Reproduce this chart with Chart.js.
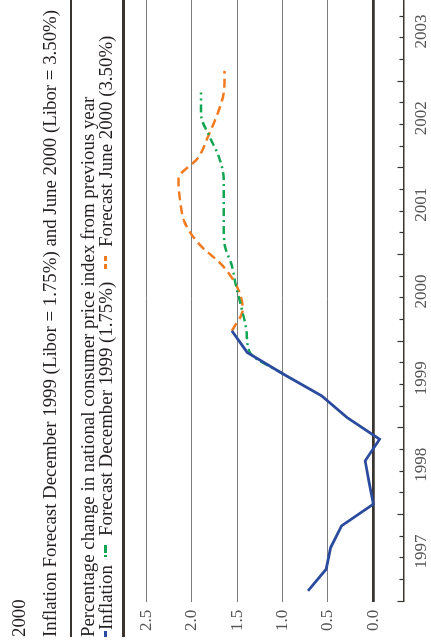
<!DOCTYPE html>
<html>
<head>
<meta charset="utf-8">
<script src="https://cdn.jsdelivr.net/npm/chart.js@4.4.0/dist/chart.umd.min.js"></script>
<style>
  html, body { margin: 0; padding: 0; background: #fff; width: 431px; height: 643px; overflow: hidden; }
  /* the chart is laid out landscape, then turned a quarter turn to the left */
  #page {
    position: absolute; left: 0; top: 0; width: 643px; height: 431px;
    transform-origin: 0 0; transform: translateY(643px) rotate(-90deg);
    overflow: hidden; font-family: "Liberation Serif", serif; color: #231f20;
  }
  #chart { position: absolute; left: 0; top: 0; }
  .txt { position: absolute; white-space: nowrap; line-height: 1; transform-origin: 0 0; }
  .rule { position: absolute; left: 6px; width: 640px; background: #3a3431; }
  .mk { position: absolute; top: 104px; height: 2.5px; }
</style>
</head>
<body>
<div id="page">
  <canvas id="chart" width="660" height="431"></canvas>
  <span class="txt" id="head">2000</span>
  <span class="txt" id="title">Inflation Forecast December 1999 (Libor = 1.75%) and June 2000 (Libor = 3.50%)</span>
  <div class="rule" style="top:70px;height:2px"></div>
  <span class="txt" id="sub">Percentage change in national consumer price index from previous year</span>
  <div class="mk" style="left:6px;width:6px;height:3px;background:#2b4c9e"></div>
  <span class="txt" id="leg1">Inflation</span>
  <div class="mk" id="gr1" style="width:2.5px;background:#12a552"></div>
  <div class="mk" id="gr2" style="width:8px;background:#12a552"></div>
  <span class="txt" id="leg2">Forecast December 1999 (1.75%)</span>
  <div class="mk" id="or1" style="width:5px;background:#f27b21"></div>
  <div class="mk" id="or2" style="width:5px;background:#f27b21"></div>
  <span class="txt" id="leg3">Forecast June 2000 (3.50%)</span>
  <div class="rule" style="top:122px;height:2.5px"></div>
</div>
<script>
// quarterly categories, 1997 Q1 .. 2003 Q4
const quarters = [
  "1997 Q1", "1997 Q2", "1997 Q3", "1997 Q4",
  "1998 Q1", "1998 Q2", "1998 Q3", "1998 Q4",
  "1999 Q1", "1999 Q2", "1999 Q3", "1999 Q4",
  "2000 Q1", "2000 Q2", "2000 Q3", "2000 Q4",
  "2001 Q1", "2001 Q2", "2001 Q3", "2001 Q4",
  "2002 Q1", "2002 Q2", "2002 Q3", "2002 Q4",
  "2003 Q1", "2003 Q2", "2003 Q3", "2003 Q4"
];
const yearLabels = ["1997", "1998", "1999", "2000", "2001", "2002", "2003"];
const valueTicks = [0, 0.5, 1.0, 1.5, 2.0, 2.5];

const inflation = [0.72, 0.52, 0.47, 0.35, 0.00, 0.045, 0.09, -0.07, 0.29, 0.57, 0.99, 1.39, 1.56];
const forecastDec1999 = [null, null, null, null, null, null, null, null, null, null,
  0.99, 1.36, 1.40, 1.45, 1.51, 1.56, 1.64, 1.65, 1.65, 1.65, 1.70, 1.81, 1.90, 1.90];
const forecastJun2000 = [null, null, null, null, null, null, null, null, null, null, null, null,
  1.56, 1.44, 1.50, 1.66, 1.92, 2.08, 2.13, 2.15, 1.93, 1.82, 1.72, 1.65, 1.64];

// header texts share one size; the title sets how much the serif is narrowed
const textSize = 19.5;
const setText = (id, left, baseline, k) => {
  const el = document.getElementById(id);
  el.style.fontSize = textSize + "px";
  el.style.left = left + "px";
  el.style.top = (baseline - 0.8375 * textSize) + "px";
  el.style.transform = `scaleX(${k})`;
  return left + el.offsetWidth * k;
};
const placeMark = (id, left) => { document.getElementById(id).style.left = left + "px"; };
const titleEl = document.getElementById("title");
titleEl.style.fontSize = textSize + "px";
const k = 627 / titleEl.offsetWidth;
setText("head", 6, 25, k);
setText("title", 6, 56.5, k);
setText("sub", 6, 94, k);
// legend row, laid out one item after the other
let xPos = setText("leg1", 13, 112.5, k);
placeMark("gr1", xPos + 8);
placeMark("gr2", xPos + 12);
xPos = setText("leg2", xPos + 29, 112.5, k);
placeMark("or1", xPos + 13);
placeMark("or2", xPos + 21);
setText("leg3", xPos + 35, 112.5, k);

// small tick marks pointing up into the plot, longer at each new year
const innerTicks = {
  id: "innerTicks",
  afterDatasetsDraw(chart) {
    const x = chart.scales.x;
    const ctx = chart.ctx;
    const bottom = chart.chartArea.bottom;
    ctx.save();
    ctx.strokeStyle = "#3a3431";
    ctx.lineWidth = 1.2;
    for (let i = 0; i <= quarters.length; i++) {
      const px = Math.round(x.getPixelForValue(i - 0.5)) + 0.5;
      const len = i % 4 === 0 ? 6.5 : 4.5;
      ctx.beginPath();
      ctx.moveTo(px, bottom);
      ctx.lineTo(px, bottom - len);
      ctx.stroke();
    }
    ctx.restore();
  },
};

const axisFont = { family: "Liberation Serif", size: 17 };

new Chart(document.getElementById("chart"), {
  type: "line",
  data: {
    labels: quarters,
    datasets: [
      {
        label: "Inflation",
        data: inflation,
        borderColor: "#2b4c9e",
        borderWidth: 2.8,
        pointRadius: 0,
        tension: 0,
      },
      {
        label: "Forecast December 1999 (1.75%)",
        data: forecastDec1999,
        borderColor: "#12a552",
        borderWidth: 2.5,
        borderDash: [8, 4, 2, 4],
        pointRadius: 0,
        cubicInterpolationMode: "monotone",
      },
      {
        label: "Forecast June 2000 (3.50%)",
        data: forecastJun2000,
        borderColor: "#f27b21",
        borderWidth: 2.5,
        borderDash: [9, 5],
        pointRadius: 0,
        cubicInterpolationMode: "monotone",
      },
    ],
  },
  options: {
    responsive: false,
    animation: false,
    devicePixelRatio: 1,
    layout: { padding: { top: 124, right: 12, left: 0, bottom: 0 } },
    plugins: { legend: { display: false }, tooltip: { enabled: false } },
    scales: {
      x: {
        type: "category",
        offset: true,
        grid: { display: false, drawTicks: false, offset: true },
        border: { display: true, color: "#3a3431", width: 1.5 },
        ticks: {
          autoSkip: false,
          maxRotation: 0,
          minRotation: 0,
          padding: 7,
          labelOffset: -4,
          color: "#555",
          font: axisFont,
          callback: (v, i) => (i % 4 === 2 ? yearLabels[Math.floor(i / 4)] : ""),
        },
        afterFit: (s) => { s.height = 27; },
      },
      y: {
        min: -0.339,
        max: 2.75,
        grid: {
          drawTicks: false,
          color: (c) => (c.tick && c.tick.value === 0 ? "#3a3431" : "#7d7d7d"),
          lineWidth: (c) => (c.tick && c.tick.value === 0 ? 2.8 : 1),
        },
        border: { display: false },
        ticks: {
          padding: 8,
          color: "#555",
          font: axisFont,
          callback: (v) => Number(v).toFixed(1),
        },
        afterBuildTicks: (s) => { s.ticks = valueTicks.map((v) => ({ value: v })); },
        afterFit: (s) => { s.width = 41.3; },
      },
    },
  },
  plugins: [innerTicks],
});
</script>
</body>
</html>
